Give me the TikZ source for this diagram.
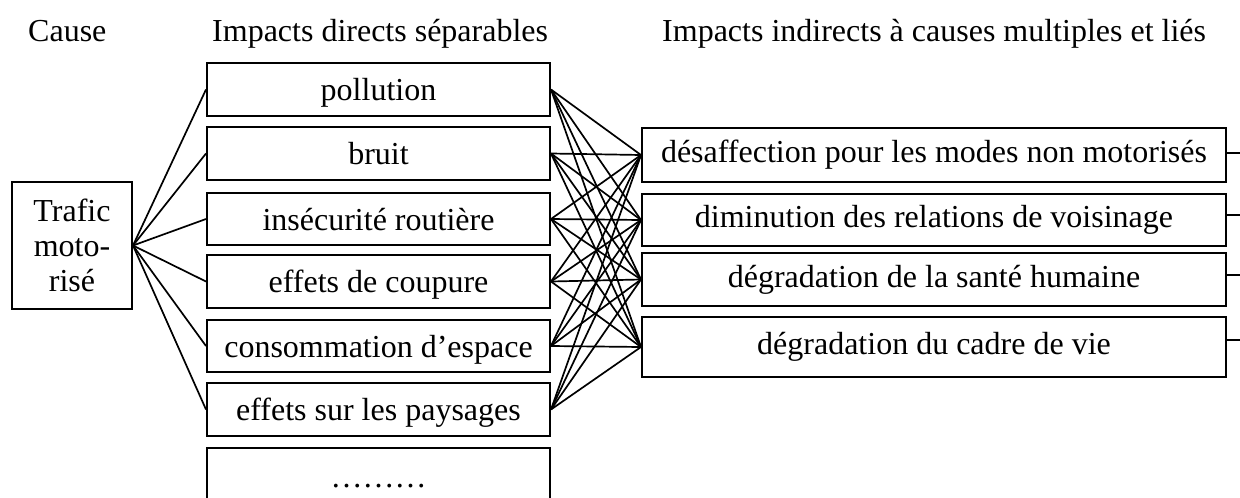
\documentclass[tikz,border=0pt]{standalone}
\usepackage{fontspec}
\setmainfont{Liberation Serif}
\begin{document}
\begin{tikzpicture}[x=1pt,y=-1pt,
  every node/.style={font=\fontsize{32}{35}\selectfont},
  lbox/.style={draw, line width=2pt, minimum width=343pt, inner sep=0pt, anchor=center, text depth=0pt},
  rbox/.style={draw, line width=2pt, minimum width=584pt, inner sep=0pt, anchor=center},
  conn/.style={line width=1.7pt},
  stub/.style={line width=2.8pt},
  head/.style={anchor=base west, inner sep=0pt}]
\useasboundingbox (0,0) rectangle (1240,498);
% headers
\node[head] (h1) at (28,41) {Cause};
\node[head] (h2) at (212,41) {Impacts directs séparables};
\node[head] (h3) at (662,41) {Impacts indirects à causes multiples et liés};
% cause
\node[draw, line width=2pt, minimum width=120pt, minimum height=127pt, inner sep=0pt, align=center] (traf) at (72,245.5) {Trafic\\moto-\\risé};
% direct impacts
\node[lbox, minimum height=53pt] (poll) at (378.5,89.5) {pollution};
\node[lbox, minimum height=53pt] (bruit) at (378.5,153.5) {bruit};
\node[lbox, minimum height=52pt] (insec) at (378.5,219) {insécurité routière};
\node[lbox, minimum height=53pt] (coup) at (378.5,281.5) {effets de coupure};
\node[lbox, minimum height=52pt] (conso) at (378.5,346) {consommation d’espace};
\node[lbox, minimum height=53pt] (pays) at (378.5,409.5) {effets sur les paysages};
\node[lbox, minimum height=80pt, text depth=5pt] (dots) at (378.5,488) {………};
% indirect impacts
\node[rbox, minimum height=54pt] (desaff) at (934,155) {désaffection pour les modes non motorisés};
\node[rbox, minimum height=52pt] (dimin) at (934,220) {diminution des relations de voisinage};
\node[rbox, minimum height=53pt] (sante) at (934,279.5) {dégradation de la santé humaine};
\node[rbox, minimum height=60pt] (cadre) at (934,347) {dégradation du cadre de vie};
% connectors
\foreach \l in {poll,bruit,insec,coup,conso,pays}{
  \draw[conn] (traf.east) -- (\l.west);
  \foreach \r in {desaff,dimin,sante,cadre}{
    \draw[conn] (\l.east) -- (\r.west);
  }
}
% stubs
\coordinate (s1) at (1240,153);
\coordinate (s2) at (1240,215);
\coordinate (s3) at (1240,275);
\coordinate (s4) at (1240,340);
\draw[stub] (desaff.east |- s1) -- (s1);
\draw[stub] (dimin.east |- s2) -- (s2);
\draw[stub] (sante.east |- s3) -- (s3);
\draw[stub] (cadre.east |- s4) -- (s4);
\end{tikzpicture}
\end{document}
